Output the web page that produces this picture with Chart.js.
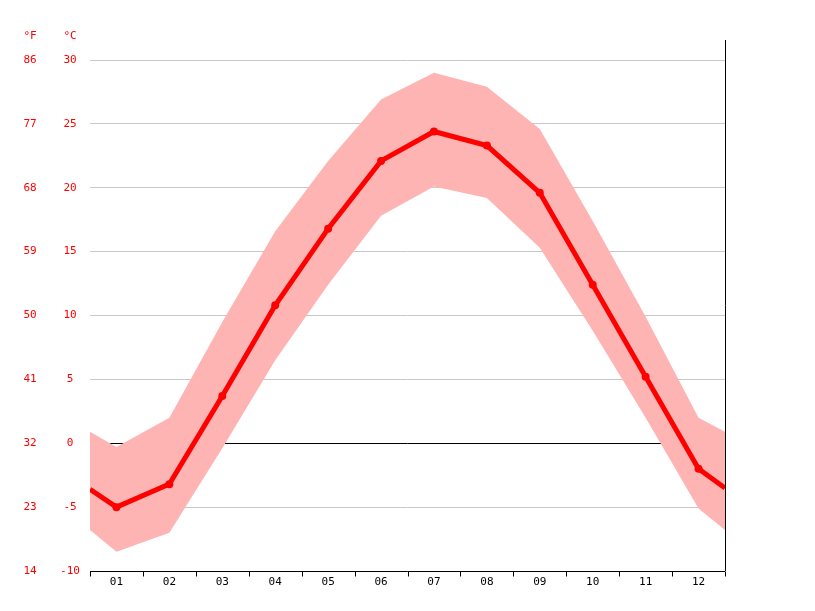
<!DOCTYPE html>
<html><head><meta charset="utf-8">
<script src="https://cdn.jsdelivr.net/npm/chart.js@4/dist/chart.umd.min.js"></script>
<style>html,body{margin:0;padding:0;background:#fff}#w{width:815px;height:611px}</style>
</head><body><div id="w"><canvas id="c"></canvas></div>
<script>
const months = ["01","02","03","04","05","06","07","08","09","10","11","12"];
const xPos = [0.5,1,2,3,4,5,6,7,8,9,10,11,12,12.5];
const meanTemp = [-3.6,-5.0,-3.2,3.7,10.8,16.8,22.1,24.4,23.3,19.6,12.4,5.2,-2.0,-3.5];
const maxTemp = [0.9,-0.3,2.0,9.5,16.6,22.1,26.9,29.0,27.9,24.6,17.4,9.9,2.0,0.9];
const minTemp = [-6.8,-8.5,-7.0,-0.4,6.5,12.4,17.8,20.1,19.2,15.3,8.8,2.0,-5.1,-6.8];
const cTicks = [30,25,20,15,10,5,0,-5,-10];
const fTicks = [86,77,68,59,50,41,32,23,14];

const pts = a => a.map((v,i)=>({x:xPos[i],y:v}));
const FONT = "'DejaVu Sans Mono', monospace";

const deco = {
  id:'deco',
  beforeDatasetsDraw(ch){
    const {ctx, scales:{x,y}} = ch;
    ctx.save();
    // zero line
    ctx.strokeStyle='#000'; ctx.lineWidth=1;
    const y0=Math.round(y.getPixelForValue(0))+0.5;
    ctx.beginPath(); ctx.moveTo(x.left,y0); ctx.lineTo(x.right,y0); ctx.stroke();
    ctx.restore();
  },
  afterDraw(ch){
    const {ctx, scales:{x,y}} = ch;
    ctx.save();
    ctx.strokeStyle='#000'; ctx.lineWidth=1;
    const xr=Math.round(x.right)+0.5;
    ctx.beginPath(); ctx.moveTo(xr,40); ctx.lineTo(xr,y.bottom); ctx.stroke();
    const yb=Math.round(y.bottom)+0.5;
    ctx.beginPath(); ctx.moveTo(x.left,yb); ctx.lineTo(x.right,yb); ctx.stroke();
    for(let i=0;i<=12;i++){
      const px=Math.round(x.getPixelForValue(i+0.5))+0.5;
      ctx.beginPath(); ctx.moveTo(px,yb); ctx.lineTo(px,yb+5); ctx.stroke();
    }
    ctx.font='11px '+FONT; ctx.textAlign='center'; ctx.textBaseline='middle';
    ctx.fillStyle='#000';
    months.forEach((m,i)=>ctx.fillText(m,x.getPixelForValue(i+1),582));
    ctx.fillStyle='#f00';
    cTicks.forEach((c,i)=>{
      const py=y.getPixelForValue(c);
      ctx.fillText(String(c),70,py);
      ctx.fillText(String(fTicks[i]),30,py);
    });
    ctx.fillText('°F',30,36); ctx.fillText('°C',70,36);
    ctx.restore();
  }
};

new Chart(document.getElementById('c'),{
  type:'line',
  data:{datasets:[
    {data:pts(maxTemp),borderWidth:0,pointRadius:0,fill:'+1',backgroundColor:'rgba(255,180,180,1)',tension:0,order:3},
    {data:pts(minTemp),borderWidth:0,pointRadius:0,fill:false,tension:0,order:3},
    {data:pts(meanTemp),borderColor:'#f00',borderWidth:5,backgroundColor:'#f00',
     pointRadius:c=>(c.dataIndex===0||c.dataIndex===13)?0:4,pointBorderWidth:0,tension:0,fill:false,order:1}
  ]},
  options:{
    responsive:true,maintainAspectRatio:false,animation:false,
    layout:{padding:{left:0,right:90,top:60,bottom:0}},
    plugins:{legend:{display:false},tooltip:{enabled:false}},
    scales:{
      x:{type:'linear',min:0.5,max:12.5,grid:{display:false},border:{display:false},ticks:{display:false},
         afterFit:s=>{s.height=40;}},
      y:{min:-10,max:30,ticks:{display:false,stepSize:5},border:{display:false},
         grid:{color:'#c8c8c8',drawTicks:false},afterFit:s=>{s.width=90;}}
    }
  },
  plugins:[deco]
});
</script></body></html>
